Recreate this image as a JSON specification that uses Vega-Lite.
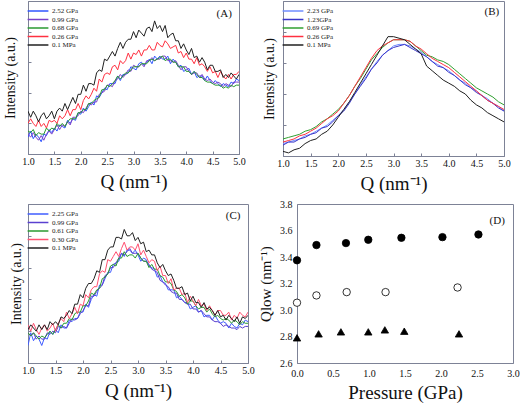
{
"$schema":"https://vega.github.io/schema/vega-lite/v6.json",
"padding":{"left":3,"top":0,"right":0,"bottom":0},
"config":{
 "font":"Liberation Serif",
 "view":{"stroke":"#7d8296","strokeWidth":1},
 "axis":{"grid":false,"domainColor":"#7d8296","tickColor":"#7d8296","labelFont":"Liberation Serif","titleFont":"Liberation Serif","labelColor":"#111","titleColor":"#111","titleFontWeight":"normal","labelFontSize":10,"tickSize":-3,"labelPadding":5,"labelFlush":false,"labelOverlap":false},
 "legend":{"labelFont":"Liberation Serif","labelFontSize":7,"labelColor":"#222","title":null,"orient":"top-left","offset":2,"padding":3,"symbolType":"M-2.6,0H2.6","symbolSize":64,"symbolStrokeWidth":1.5,"rowPadding":0.5,"labelOffset":9}
},
"datasets":{
"A":[
{"q":1.00,"b":11,"p":13,"g":15,"r":20,"k":28},{"q":1.05,"b":15,"p":11,"g":14,"r":23,"k":24},{"q":1.10,"b":10,"p":14,"g":16,"r":20,"k":28},{"q":1.15,"b":13,"p":11,"g":12,"r":18,"k":25},{"q":1.20,"b":11,"p":9,"g":14,"r":22,"k":21},{"q":1.25,"b":8,"p":12,"g":13,"r":18,"k":25},{"q":1.30,"b":13,"p":9,"g":13,"r":20,"k":27},{"q":1.35,"b":12,"p":13,"g":17,"r":17,"k":23},{"q":1.40,"b":16,"p":15,"g":15,"r":22,"k":25},{"q":1.45,"b":14,"p":13,"g":17,"r":21,"k":28},
{"q":1.50,"b":17,"p":16,"g":16,"r":22,"k":23},{"q":1.55,"b":15,"p":19,"g":20,"r":20,"k":28},{"q":1.60,"b":19,"p":16,"g":18,"r":25,"k":30},{"q":1.65,"b":18,"p":19,"g":20,"r":23,"k":28},{"q":1.70,"b":17,"p":18,"g":18,"r":25,"k":33},{"q":1.75,"b":22,"p":21,"g":21,"r":29,"k":29},{"q":1.80,"b":20,"p":19,"g":23,"r":25,"k":33},{"q":1.85,"b":23,"p":24,"g":23,"r":29,"k":37},{"q":1.90,"b":22,"p":24,"g":23,"r":29,"k":33},{"q":1.95,"b":27,"p":25,"g":27,"r":33,"k":39},
{"q":2.00,"b":26,"p":28,"g":27,"r":29,"k":39},{"q":2.05,"b":30,"p":27,"g":29,"r":35,"k":45},{"q":2.10,"b":28,"p":30,"g":29,"r":38,"k":41},{"q":2.15,"b":31,"p":33,"g":33,"r":36,"k":46},{"q":2.20,"b":34,"p":32,"g":33,"r":39,"k":46},{"q":2.25,"b":32,"p":34,"g":35,"r":43,"k":45},{"q":2.30,"b":38,"p":34,"g":36,"r":41,"k":53},{"q":2.35,"b":37,"p":39,"g":37,"r":49,"k":55},{"q":2.40,"b":40,"p":40,"g":42,"r":47,"k":54},{"q":2.45,"b":43,"p":41,"g":42,"r":52,"k":62},
{"q":2.50,"b":42,"p":45,"g":45,"r":53,"k":61},{"q":2.55,"b":46,"p":45,"g":44,"r":52,"k":64},{"q":2.60,"b":46,"p":44,"g":46,"r":57,"k":67},{"q":2.65,"b":46,"p":48,"g":48,"r":58,"k":64},{"q":2.70,"b":51,"p":49,"g":51,"r":55,"k":69},{"q":2.75,"b":48,"p":52,"g":49,"r":61,"k":73},{"q":2.80,"b":52,"p":50,"g":51,"r":59,"k":69},{"q":2.85,"b":52,"p":52,"g":53,"r":61,"k":73},{"q":2.90,"b":53,"p":55,"g":53,"r":66,"k":75},{"q":2.95,"b":57,"p":54,"g":55,"r":62,"k":75},
{"q":3.00,"b":56,"p":58,"g":57,"r":66,"k":80},{"q":3.05,"b":55,"p":57,"g":57,"r":65,"k":76},{"q":3.10,"b":59,"p":57,"g":57,"r":68,"k":81},{"q":3.15,"b":60,"p":59,"g":59,"r":64,"k":79},{"q":3.20,"b":58,"p":57,"g":59,"r":68,"k":77},{"q":3.25,"b":60,"p":61,"g":59,"r":68,"k":82},{"q":3.30,"b":62,"p":61,"g":61,"r":71,"k":83},{"q":3.35,"b":59,"p":63,"g":62,"r":68,"k":80},{"q":3.40,"b":64,"p":61,"g":61,"r":68,"k":87},{"q":3.45,"b":62,"p":62,"g":62,"r":73,"k":82},
{"q":3.50,"b":64,"p":62,"g":63,"r":71,"k":84},{"q":3.55,"b":62,"p":64,"g":64,"r":70,"k":80},{"q":3.60,"b":62,"p":64,"g":61,"r":74,"k":84},{"q":3.65,"b":64,"p":61,"g":62,"r":72,"k":76},{"q":3.70,"b":59,"p":61,"g":62,"r":69,"k":78},{"q":3.75,"b":62,"p":60,"g":60,"r":70,"k":79},{"q":3.80,"b":60,"p":61,"g":60,"r":71,"k":74},{"q":3.85,"b":57,"p":58,"g":57,"r":66,"k":74},{"q":3.90,"b":58,"p":55,"g":57,"r":67,"k":69},{"q":3.95,"b":54,"p":57,"g":57,"r":63,"k":72},
{"q":4.00,"b":55,"p":57,"g":54,"r":66,"k":68},{"q":4.05,"b":56,"p":54,"g":54,"r":62,"k":65},{"q":4.10,"b":52,"p":52,"g":52,"r":62,"k":69},{"q":4.15,"b":54,"p":53,"g":54,"r":59,"k":63},{"q":4.20,"b":50,"p":53,"g":52,"r":63,"k":64},{"q":4.25,"b":51,"p":50,"g":50,"r":58,"k":60},{"q":4.30,"b":51,"p":52,"g":50,"r":59,"k":63},{"q":4.35,"b":48,"p":49,"g":48,"r":57,"k":60},{"q":4.40,"b":51,"p":48,"g":47,"r":54,"k":55},{"q":4.45,"b":48,"p":49,"g":47,"r":57,"k":58},
{"q":4.50,"b":46,"p":47,"g":46,"r":53,"k":58},{"q":4.55,"b":48,"p":46,"g":45,"r":54,"k":54},{"q":4.60,"b":46,"p":47,"g":45,"r":50,"k":54},{"q":4.65,"b":44,"p":46,"g":45,"r":54,"k":55},{"q":4.70,"b":46,"p":44,"g":43,"r":51,"k":50},{"q":4.75,"b":45,"p":46,"g":44,"r":49,"k":52},{"q":4.80,"b":44,"p":45,"g":43,"r":52,"k":50},{"q":4.85,"b":47,"p":44,"g":45,"r":49,"k":53},{"q":4.90,"b":46,"p":47,"g":44,"r":52,"k":51},{"q":4.95,"b":49,"p":47,"g":45,"r":52,"k":49},
{"q":5.00,"b":48,"p":47,"g":45,"r":54,"k":52}
],
"B":[
{"q":1.0,"b":8,"p":7,"g":11,"r":9,"k":3},{"q":1.1,"b":9,"p":9,"g":12,"r":10,"k":2},{"q":1.2,"b":10,"p":9,"g":13,"r":11,"k":4},{"q":1.3,"b":11,"p":11,"g":14,"r":13,"k":5},{"q":1.4,"b":13,"p":12,"g":16,"r":14,"k":8},{"q":1.5,"b":14,"p":14,"g":17,"r":16,"k":10},{"q":1.6,"b":16,"p":15,"g":19,"r":18,"k":11},{"q":1.7,"b":18,"p":18,"g":22,"r":21,"k":14},{"q":1.8,"b":20,"p":19,"g":24,"r":24,"k":16},{"q":1.9,"b":23,"p":22,"g":27,"r":26,"k":20},
{"q":2.0,"b":26,"p":26,"g":30,"r":29,"k":25},{"q":2.1,"b":30,"p":29,"g":34,"r":34,"k":30},{"q":2.2,"b":35,"p":34,"g":39,"r":39,"k":35},{"q":2.3,"b":40,"p":40,"g":45,"r":45,"k":41},{"q":2.4,"b":46,"p":45,"g":50,"r":51,"k":47},{"q":2.5,"b":51,"p":50,"g":56,"r":57,"k":53},{"q":2.6,"b":56,"p":56,"g":62,"r":63,"k":59},{"q":2.7,"b":61,"p":60,"g":66,"r":68,"k":65},{"q":2.8,"b":65,"p":65,"g":70,"r":71,"k":71},{"q":2.9,"b":68,"p":68,"g":73,"r":73,"k":77},
{"q":3.0,"b":71,"p":70,"g":75,"r":75,"k":77},{"q":3.1,"b":72,"p":71,"g":75,"r":75,"k":76},{"q":3.2,"b":72,"p":72,"g":75,"r":75,"k":75},{"q":3.3,"b":71,"p":70,"g":74,"r":74,"k":72},{"q":3.4,"b":69,"p":68,"g":71,"r":71,"k":69},{"q":3.5,"b":67,"p":66,"g":68,"r":69,"k":66},{"q":3.6,"b":64,"p":64,"g":65,"r":66,"k":58},{"q":3.7,"b":61,"p":61,"g":64,"r":63,"k":55},{"q":3.8,"b":59,"p":58,"g":62,"r":61,"k":52},{"q":3.9,"b":57,"p":57,"g":61,"r":59,"k":49},
{"q":4.0,"b":55,"p":54,"g":59,"r":57,"k":47},{"q":4.1,"b":52,"p":52,"g":56,"r":54,"k":45},{"q":4.2,"b":49,"p":49,"g":53,"r":51,"k":42},{"q":4.3,"b":47,"p":46,"g":50,"r":48,"k":40},{"q":4.4,"b":44,"p":44,"g":47,"r":45,"k":36},{"q":4.5,"b":42,"p":41,"g":44,"r":42,"k":33},{"q":4.6,"b":39,"p":39,"g":42,"r":39,"k":31},{"q":4.7,"b":37,"p":36,"g":40,"r":36,"k":28},{"q":4.8,"b":34,"p":34,"g":38,"r":34,"k":26},{"q":4.9,"b":32,"p":31,"g":35,"r":32,"k":24},
{"q":5.0,"b":29,"p":29,"g":33,"r":30,"k":22}
],
"C":[
{"q":1.00,"b":11,"p":19,"g":19,"r":24,"k":21},{"q":1.05,"b":19,"p":17,"g":17,"r":20,"k":24},{"q":1.10,"b":14,"p":19,"g":19,"r":25,"k":22},{"q":1.15,"b":17,"p":15,"g":17,"r":21,"k":20},{"q":1.20,"b":15,"p":17,"g":15,"r":18,"k":24},{"q":1.25,"b":11,"p":15,"g":17,"r":22,"k":21},{"q":1.30,"b":16,"p":15,"g":16,"r":24,"k":24},{"q":1.35,"b":15,"p":19,"g":18,"r":20,"k":21},{"q":1.40,"b":20,"p":18,"g":20,"r":22,"k":26},{"q":1.45,"b":18,"p":20,"g":18,"r":25,"k":24},
{"q":1.50,"b":21,"p":19,"g":21,"r":20,"k":26},{"q":1.55,"b":19,"p":23,"g":24,"r":25,"k":24},{"q":1.60,"b":24,"p":22,"g":22,"r":28,"k":29},{"q":1.65,"b":22,"p":23,"g":25,"r":26,"k":28},{"q":1.70,"b":22,"p":22,"g":25,"r":32,"k":30},{"q":1.75,"b":27,"p":25,"g":28,"r":28,"k":33},{"q":1.80,"b":26,"p":28,"g":27,"r":31,"k":31},{"q":1.85,"b":28,"p":27,"g":31,"r":35,"k":37},{"q":1.90,"b":28,"p":28,"g":32,"r":31,"k":37},{"q":1.95,"b":32,"p":31,"g":32,"r":37,"k":43},
{"q":2.00,"b":32,"p":33,"g":36,"r":36,"k":41},{"q":2.05,"b":37,"p":36,"g":36,"r":43,"k":47},{"q":2.10,"b":35,"p":36,"g":39,"r":41,"k":50},{"q":2.15,"b":40,"p":42,"g":44,"r":46,"k":50},{"q":2.20,"b":43,"p":42,"g":43,"r":48,"k":53},{"q":2.25,"b":42,"p":45,"g":46,"r":48,"k":58},{"q":2.30,"b":49,"p":47,"g":47,"r":56,"k":57},{"q":2.35,"b":49,"p":49,"g":53,"r":58,"k":65},{"q":2.40,"b":53,"p":55,"g":54,"r":57,"k":65},{"q":2.45,"b":57,"p":56,"g":56,"r":65,"k":71},
{"q":2.50,"b":57,"p":60,"g":61,"r":64,"k":73},{"q":2.55,"b":62,"p":60,"g":62,"r":67,"k":73},{"q":2.60,"b":63,"p":63,"g":61,"r":70,"k":79},{"q":2.65,"b":64,"p":66,"g":66,"r":67,"k":79},{"q":2.70,"b":69,"p":69,"g":66,"r":72,"k":78},{"q":2.75,"b":67,"p":68,"g":70,"r":76,"k":84},{"q":2.80,"b":71,"p":70,"g":67,"r":71,"k":80},{"q":2.85,"b":71,"p":72,"g":68,"r":73,"k":80},{"q":2.90,"b":69,"p":69,"g":68,"r":73,"k":82},{"q":2.95,"b":71,"p":69,"g":66,"r":71,"k":77},
{"q":3.00,"b":68,"p":69,"g":69,"r":75,"k":79},{"q":3.05,"b":64,"p":66,"g":66,"r":68,"k":75},{"q":3.10,"b":66,"p":64,"g":64,"r":71,"k":76},{"q":3.15,"b":65,"p":64,"g":64,"r":67,"k":70},{"q":3.20,"b":61,"p":62,"g":60,"r":63,"k":71},{"q":3.25,"b":60,"p":59,"g":62,"r":65,"k":68},{"q":3.30,"b":59,"p":58,"g":59,"r":64,"k":68},{"q":3.35,"b":54,"p":57,"g":59,"r":58,"k":63},{"q":3.40,"b":55,"p":52,"g":55,"r":61,"k":60},{"q":3.45,"b":51,"p":51,"g":54,"r":55,"k":62},
{"q":3.50,"b":50,"p":49,"g":51,"r":55,"k":58},{"q":3.55,"b":46,"p":48,"g":51,"r":50,"k":55},{"q":3.60,"b":46,"p":45,"g":50,"r":53,"k":56},{"q":3.65,"b":46,"p":44,"g":46,"r":46,"k":52},{"q":3.70,"b":41,"p":44,"g":45,"r":47,"k":47},{"q":3.75,"b":42,"p":40,"g":42,"r":47,"k":47},{"q":3.80,"b":40,"p":40,"g":43,"r":43,"k":48},{"q":3.85,"b":38,"p":38,"g":41,"r":44,"k":43},{"q":3.90,"b":38,"p":37,"g":37,"r":38,"k":44},{"q":3.95,"b":34,"p":37,"g":39,"r":42,"k":39},
{"q":4.00,"b":35,"p":34,"g":39,"r":39,"k":42},{"q":4.05,"b":36,"p":34,"g":36,"r":36,"k":38},{"q":4.10,"b":32,"p":32,"g":34,"r":40,"k":38},{"q":4.15,"b":33,"p":33,"g":35,"r":36,"k":35},{"q":4.20,"b":29,"p":31,"g":35,"r":37,"k":38},{"q":4.25,"b":30,"p":29,"g":32,"r":33,"k":34},{"q":4.30,"b":30,"p":29,"g":34,"r":36,"k":35},{"q":4.35,"b":27,"p":27,"g":31,"r":33,"k":33},{"q":4.40,"b":30,"p":26,"g":29,"r":30,"k":30},{"q":4.45,"b":27,"p":26,"g":30,"r":33,"k":33},
{"q":4.50,"b":25,"p":25,"g":28,"r":33,"k":29},{"q":4.55,"b":26,"p":23,"g":27,"r":30,"k":30},{"q":4.60,"b":25,"p":24,"g":28,"r":30,"k":27},{"q":4.65,"b":22,"p":23,"g":27,"r":32,"k":30},{"q":4.70,"b":25,"p":22,"g":25,"r":27,"k":28},{"q":4.75,"b":23,"p":22,"g":27,"r":30,"k":26},{"q":4.80,"b":22,"p":21,"g":26,"r":28,"k":29},{"q":4.85,"b":25,"p":23,"g":24,"r":32,"k":25},{"q":4.90,"b":24,"p":22,"g":26,"r":30,"k":29},{"q":4.95,"b":27,"p":23,"g":25,"r":29,"k":28},
{"q":5.00,"b":26,"p":23,"g":25,"r":32,"k":30}
],
"D":[
{"p":0.0,"q":3.375,"s":"hi"},{"p":0.27,"q":3.49,"s":"hi"},{"p":0.68,"q":3.505,"s":"hi"},{"p":0.99,"q":3.53,"s":"hi"},{"p":1.45,"q":3.545,"s":"hi"},{"p":2.02,"q":3.55,"s":"hi"},{"p":2.52,"q":3.57,"s":"hi"},
{"p":0.0,"q":3.055,"s":"mid"},{"p":0.27,"q":3.11,"s":"mid"},{"p":0.69,"q":3.135,"s":"mid"},{"p":1.23,"q":3.135,"s":"mid"},{"p":2.23,"q":3.17,"s":"mid"},
{"p":0.0,"q":2.79,"s":"lo"},{"p":0.30,"q":2.82,"s":"lo"},{"p":0.61,"q":2.835,"s":"lo"},{"p":0.99,"q":2.835,"s":"lo"},{"p":1.22,"q":2.85,"s":"lo"},{"p":1.49,"q":2.84,"s":"lo"},{"p":2.25,"q":2.82,"s":"lo"}
]
},
"spacing":4,
"vconcat":[
{"hconcat":[
 {"width":211,"height":153,
  "layer":[
   {"data":{"name":"A"},"transform":[{"fold":["b","p","g","r","k"],"as":["s","v"]}],
    "mark":{"type":"line","strokeWidth":1,"clip":true},
    "encoding":{
     "x":{"field":"q","type":"quantitative","scale":{"domain":[1,5],"nice":false},"axis":{"tickCount":8,"format":".1f","title":"Q (nm⁻¹)","titleFontSize":19,"titlePadding":6}},
     "y":{"field":"v","type":"quantitative","scale":{"domain":[0,100],"nice":false},"axis":{"tickCount":5,"labels":false,"title":"Intensity (a.u.)","titleFontSize":14,"titlePadding":10}},
     "color":{"field":"s","type":"nominal","scale":{"domain":["b","p","g","r","k"],"range":["#2f55ff","#7a3fc8","#2a9a30","#ff3040","#202020"]},"legend":{"labelExpr":"datum.label=='b'?'2.52 GPa':datum.label=='p'?'0.99 GPa':datum.label=='g'?'0.68 GPa':datum.label=='r'?'0.26 GPa':'0.1 MPa'"}}
    }},
   {"data":{"values":[{}]},"mark":{"type":"text","text":"(A)","fontSize":11,"font":"Liberation Serif","color":"#111"},"encoding":{"x":{"datum":4.72},"y":{"datum":91.5}}}
  ]},
 {"width":221,"height":155,
  "layer":[
   {"data":{"name":"B"},"transform":[{"fold":["b","p","g","r","k"],"as":["s","v"]}],
    "mark":{"type":"line","strokeWidth":1,"clip":true},
    "encoding":{
     "x":{"field":"q","type":"quantitative","scale":{"domain":[1,5],"nice":false},"axis":{"tickCount":8,"format":".1f","title":"Q (nm⁻¹)","titleFontSize":19,"titlePadding":6}},
     "y":{"field":"v","type":"quantitative","scale":{"domain":[0,100],"nice":false},"axis":{"tickCount":5,"labels":false,"title":"Intensity (a.u.)","titleFontSize":14,"titlePadding":6}},
     "color":{"field":"s","type":"nominal","scale":{"domain":["b","p","g","r","k"],"range":["#6f8cff","#3a35c8","#30a030","#ff3040","#202020"]},"legend":{"labelExpr":"datum.label=='b'?'2.23 GPa':datum.label=='p'?'1.23GPa':datum.label=='g'?'0.69 GPa':datum.label=='r'?'0.26 GPa':'0.1 MPa'"}}
    }},
   {"data":{"values":[{}]},"mark":{"type":"text","text":"(B)","fontSize":11,"font":"Liberation Serif","color":"#111"},"encoding":{"x":{"datum":4.78},"y":{"datum":93}}}
  ]}
 ],"spacing":16,"resolve":{"scale":{"color":"independent"},"legend":{"color":"independent"}}},
{"hconcat":[
 {"width":220,"height":159,
  "layer":[
   {"data":{"name":"C"},"transform":[{"fold":["b","p","g","r","k"],"as":["s","v"]}],
    "mark":{"type":"line","strokeWidth":1,"clip":true},
    "encoding":{
     "x":{"field":"q","type":"quantitative","scale":{"domain":[1,5],"nice":false},"axis":{"tickCount":8,"format":".1f","title":"Q (nm⁻¹)","titleFontSize":19,"titlePadding":6}},
     "y":{"field":"v","type":"quantitative","scale":{"domain":[0,100],"nice":false},"axis":{"tickCount":6,"labels":false,"title":"Intensity (a.u.)","titleFontSize":14,"titlePadding":4}},
     "color":{"field":"s","type":"nominal","scale":{"domain":["b","p","g","r","k"],"range":["#3f5cff","#5a40d0","#2a9a30","#ff5070","#202020"]},"legend":{"labelExpr":"datum.label=='b'?'2.25 GPa':datum.label=='p'?'0.99 GPa':datum.label=='g'?'0.61 GPa':datum.label=='r'?'0.30 GPa':'0.1 MPa'"}}
    }},
   {"data":{"values":[{}]},"mark":{"type":"text","text":"(C)","fontSize":11,"font":"Liberation Serif","color":"#111"},"encoding":{"x":{"datum":4.73},"y":{"datum":92.5}}}
  ]},
 {"width":216,"height":159,
  "layer":[
   {"data":{"name":"D"},
    "mark":{"type":"point","filled":true,"stroke":"#000","strokeWidth":0.8,"size":55,"opacity":1},
    "encoding":{
     "x":{"field":"p","type":"quantitative","scale":{"domain":[0,3],"nice":false},"axis":{"tickCount":7,"format":".1f","tickSize":0,"title":"Pressure (GPa)","titleFontSize":19,"titlePadding":5}},
     "y":{"field":"q","type":"quantitative","scale":{"domain":[2.6,3.8],"nice":false,"zero":false},"axis":{"tickCount":7,"format":".1f","tickSize":0,"title":"Qlow (nm⁻¹)","titleFontSize":15,"titlePadding":6}},
     "shape":{"field":"s","type":"nominal","scale":{"domain":["hi","mid","lo"],"range":["circle","circle","triangle-up"]},"legend":null},
     "fill":{"field":"s","type":"nominal","scale":{"domain":["hi","mid","lo"],"range":["#000000","#ffffff","#000000"]},"legend":null}
    }},
   {"data":{"values":[{}]},"mark":{"type":"text","text":"(D)","fontSize":11,"font":"Liberation Serif","color":"#111"},"encoding":{"x":{"datum":2.78},"y":{"datum":3.67}}}
  ]}
 ],"spacing":3,"resolve":{"scale":{"color":"independent"},"legend":{"color":"independent"}}}
],
"resolve":{"scale":{"color":"independent"},"legend":{"color":"independent"}}
}
